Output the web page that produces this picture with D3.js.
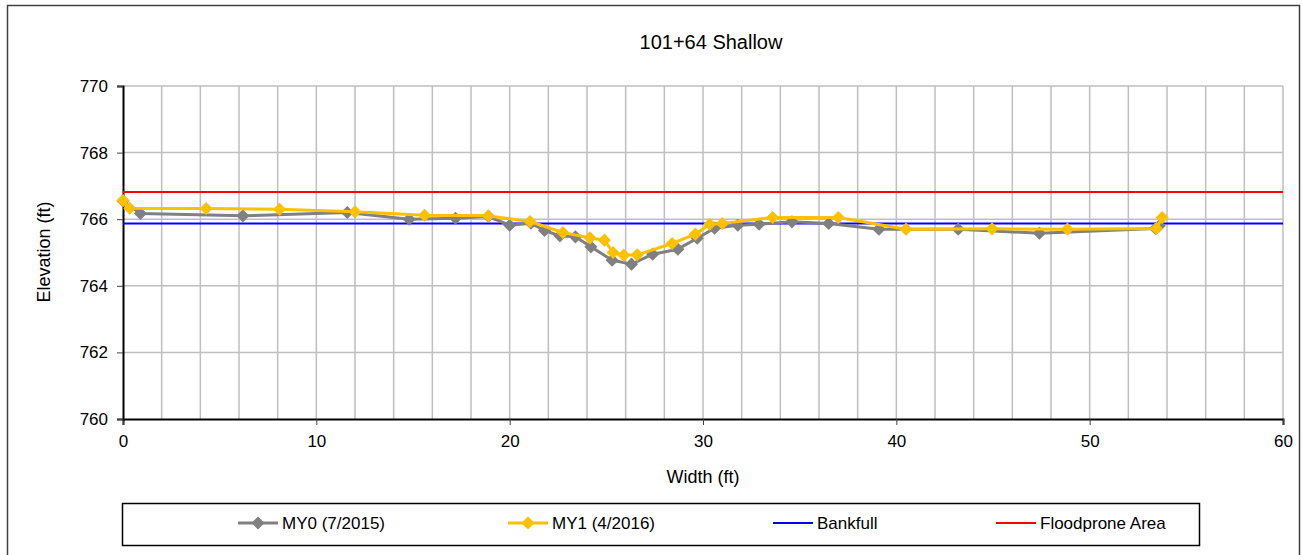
<!DOCTYPE html>
<html>
<head>
<meta charset="utf-8">
<script src="https://cdn.jsdelivr.net/npm/d3@7"></script>
<style>
  body { margin: 0; background: #fff; }
  svg { font-family: "Liberation Sans", "DejaVu Sans", sans-serif; }
</style>
</head>
<body>
<div id="main"></div>
<script>

var width = 1302,
    height = 555;

// cross-section survey data, width (ft) / elevation (ft)
var my0Width = [0, 0.9, 6.2, 11.6, 14.8, 17.2, 18.9, 20.0, 21.1, 21.8, 22.6, 23.4, 24.2, 25.3, 26.3, 27.4, 28.7, 29.7, 30.6, 31.8, 32.9, 34.6, 36.5, 39.1, 43.2, 47.4, 53.4, 53.6];
var my0Elev  = [766.55, 766.17, 766.1, 766.2, 766.0, 766.03, 766.08, 765.82, 765.88, 765.66, 765.5, 765.47, 765.17, 764.77, 764.65, 764.95, 765.1, 765.43, 765.73, 765.82, 765.85, 765.92, 765.87, 765.7, 765.7, 765.58, 765.72, 765.8];

var my1Width = [0, 0.35, 4.3, 8.1, 12.0, 15.6, 18.9, 21.05, 22.75, 24.15, 24.9, 25.35, 25.9, 26.6, 28.4, 29.6, 30.35, 31.0, 33.6, 37.0, 40.5, 44.95, 48.85, 53.45, 53.75];
var my1Elev  = [766.56, 766.33, 766.32, 766.3, 766.22, 766.12, 766.1, 765.93, 765.6, 765.44, 765.37, 765.0, 764.92, 764.93, 765.27, 765.55, 765.85, 765.87, 766.05, 766.05, 765.7, 765.71, 765.7, 765.72, 766.05];

var bankfull = 765.87;
var floodprone = 766.82;

var xTicks = [0, 10, 20, 30, 40, 50, 60];
var yTicks = [760, 762, 764, 766, 768, 770];

var legendNames = ["MY0 (7/2015)", "MY1 (4/2016)", "Bankfull", "Floodprone Area"];

var plot = {left: 123, right: 1283, top: 86, bottom: 419};

var svg = d3.select("div#main").append("svg")
    .attr("width", width)
    .attr("height", height);

// outer chart frame
svg.append("rect")
    .attr("x", 7.5).attr("y", 5.5)
    .attr("width", 1292).attr("height", 560)
    .attr("fill", "none")
    .attr("stroke", "#404040")
    .attr("stroke-width", 1.5);

var x = d3.scaleLinear().domain([0, 60]).range([plot.left, plot.right]);
var y = d3.scaleLinear().domain([760, 770]).range([plot.bottom, plot.top]);

// gridlines
svg.append("g").selectAll("line")
    .data(d3.range(2, 61, 2))
    .enter().append("line")
    .attr("x1", function(d) { return x(d); })
    .attr("x2", function(d) { return x(d); })
    .attr("y1", plot.top).attr("y2", plot.bottom)
    .attr("stroke", "#bfbfbf")
    .attr("stroke-width", 1.5);

svg.append("g").selectAll("line")
    .data(yTicks.slice(1))
    .enter().append("line")
    .attr("x1", plot.left).attr("x2", plot.right)
    .attr("y1", function(d) { return y(d); })
    .attr("y2", function(d) { return y(d); })
    .attr("stroke", "#bfbfbf")
    .attr("stroke-width", 1.5);

// axes
var xAxis = svg.append("g")
    .attr("transform", `translate(0,${plot.bottom})`)
    .call(d3.axisBottom(x).tickValues(xTicks).tickSize(6).tickPadding(10));

var yAxis = svg.append("g")
    .attr("transform", `translate(${plot.left},0)`)
    .call(d3.axisLeft(y).tickValues(yTicks).tickSize(6).tickPadding(9));

[xAxis, yAxis].forEach(function(a) {
    a.select(".domain").attr("stroke", "#000").attr("stroke-width", 2);
    a.selectAll(".tick line").attr("stroke", "#444").attr("stroke-width", 1);
    a.selectAll(".tick text")
        .attr("fill", "#000")
        .style("font-size", "17px")
        .style("font-family", "\"Liberation Sans\", sans-serif");
});

// reference lines
svg.append("line")
    .attr("x1", x(0)).attr("x2", x(60))
    .attr("y1", y(floodprone)).attr("y2", y(floodprone))
    .attr("stroke", "#ff0000").attr("stroke-width", 2);

svg.append("line")
    .attr("x1", x(0)).attr("x2", x(60))
    .attr("y1", y(bankfull)).attr("y2", y(bankfull))
    .attr("stroke", "#0000ff").attr("stroke-width", 2);

var line = d3.line()
    .x(function(d) { return x(d[0]); })
    .y(function(d) { return y(d[1]); });

var diamond = d3.symbol().type(d3.symbolDiamond2).size(110);

function drawSeries(xs, ys, color) {
    var pts = xs.map(function(v, i) { return [v, ys[i]]; });
    svg.append("path")
        .datum(pts)
        .attr("d", line)
        .attr("fill", "none")
        .attr("stroke", color)
        .attr("stroke-width", 3)
        .attr("stroke-linejoin", "round");
    svg.append("g").selectAll("path")
        .data(pts)
        .enter().append("path")
        .attr("d", diamond)
        .attr("transform", function(d) { return `translate(${x(d[0])},${y(d[1])})`; })
        .attr("fill", color);
}

drawSeries(my0Width, my0Elev, "#808080");
drawSeries(my1Width, my1Elev, "#ffc000");

// titles
svg.append("text")
    .attr("x", 711).attr("y", 49)
    .attr("text-anchor", "middle")
    .style("font-size", "20px")
    .text("101+64 Shallow");

svg.append("text")
    .attr("x", 703).attr("y", 483)
    .attr("text-anchor", "middle")
    .style("font-size", "18px")
    .text("Width (ft)");

svg.append("text")
    .attr("transform", "translate(50,252) rotate(-90)")
    .attr("text-anchor", "middle")
    .style("font-size", "18px")
    .text("Elevation (ft)");

// legend
svg.append("rect")
    .attr("x", 122.5).attr("y", 503.5)
    .attr("width", 1077).attr("height", 42)
    .attr("fill", "#fff")
    .attr("stroke", "#000")
    .attr("stroke-width", 1.5);

var legendX = [238, 508, 773, 996];
var legendColors = ["#808080", "#ffc000", "#0000ff", "#ff0000"];
var ly = 523;

legendNames.forEach(function(name, i) {
    var g = svg.append("g");
    g.append("line")
        .attr("x1", legendX[i]).attr("x2", legendX[i] + 40)
        .attr("y1", ly).attr("y2", ly)
        .attr("stroke", legendColors[i])
        .attr("stroke-width", i < 2 ? 3 : 2);
    if (i < 2) {
        g.append("path")
            .attr("d", diamond)
            .attr("transform", `translate(${legendX[i] + 20},${ly})`)
            .attr("fill", legendColors[i]);
    }
    g.append("text")
        .attr("x", legendX[i] + 44).attr("y", ly + 6)
        .style("font-size", "17px")
        .text(name);
});

</script>
</body>
</html>
